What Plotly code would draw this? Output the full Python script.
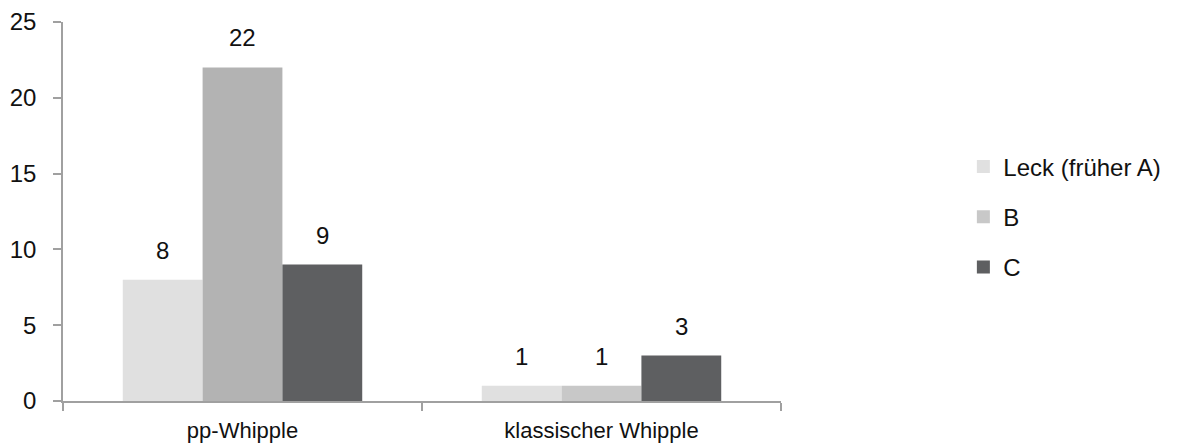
import plotly.graph_objects as go

categories = ["pp-Whipple", "klassischer Whipple"]
series_names = ["Leck (früher A)", "B", "C"]
leck = [8, 1]
b_vals = [22, 1]
c_vals = [9, 3]
y_ticks = [0, 5, 10, 15, 20, 25]

bar_colors = {
    "Leck (früher A)": ["#E0E0E0", "#E0E0E0"],
    "B": ["#B3B3B3", "#C8C8C8"],
    "C": ["#5E5F61", "#5E5F61"],
}
legend_colors = {"Leck (früher A)": "#E0E0E0", "B": "#C8C8C8", "C": "#5E5F61"}

FONT = "Liberation Sans, Arial, sans-serif"
FS = 24
fig = go.Figure()

for name, vals in zip(series_names, [leck, b_vals, c_vals]):
    fig.add_trace(go.Bar(
        x=categories, y=vals, name=name,
        marker=dict(color=bar_colors[name], line=dict(width=0)),
        legendgroup=name, showlegend=False,
    ))
    # legend entry: a square swatch in the series colour
    fig.add_trace(go.Scatter(
        x=[None], y=[None], name=name, mode="markers",
        marker=dict(symbol="square", size=13, color=legend_colors[name]),
        legendgroup=name, showlegend=True,
    ))

# value labels above bars
offsets = [-1, 0, 1]
n = len(series_names)
bar_w = (1 - 0.333) / n
for s, vals in enumerate([leck, b_vals, c_vals]):
    for ci, v in enumerate(vals):
        fig.add_annotation(
            x=ci + offsets[s] * bar_w, y=v, xref="x", yref="y",
            text=str(v), showarrow=False, yanchor="bottom",
            yshift=14, font=dict(size=FS, color="#111111", family=FONT),
        )

fig.update_layout(
    width=1187, height=448,
    margin=dict(l=63, r=406, t=22, b=47),
    paper_bgcolor="white", plot_bgcolor="white",
    barmode="group", bargap=0.333, bargroupgap=0,
    font=dict(family=FONT, size=FS, color="#111111"),
    legend=dict(
        x=1.254, y=0.4855, xanchor="left", yanchor="middle",
        font=dict(size=FS, family=FONT, color="#111111"),
        itemwidth=30, tracegroupgap=16, traceorder="grouped",
        bgcolor="rgba(0,0,0,0)",
    ),
    showlegend=True,
)
fig.update_xaxes(
    type="category", range=[-0.5, 1.5], automargin=False,
    showline=True, linecolor="#A0A0A0", linewidth=1.5,
    ticks="outside", tickson="boundaries", ticklen=8, tickcolor="#A0A0A0", tickwidth=1.5,
    showgrid=False, zeroline=False, ticklabelstandoff=9,
    tickfont=dict(size=22, family=FONT, color="#111111"),
)
fig.update_yaxes(
    range=[0, 25], tickvals=y_ticks, automargin=False,
    showline=True, linecolor="#A0A0A0", linewidth=1.5,
    ticks="outside", ticklen=8, tickcolor="#A0A0A0", tickwidth=1.5,
    showgrid=False, zeroline=False, ticklabelstandoff=12,
    tickfont=dict(size=FS, family=FONT, color="#111111"),
)

fig.write_html("out.html")
